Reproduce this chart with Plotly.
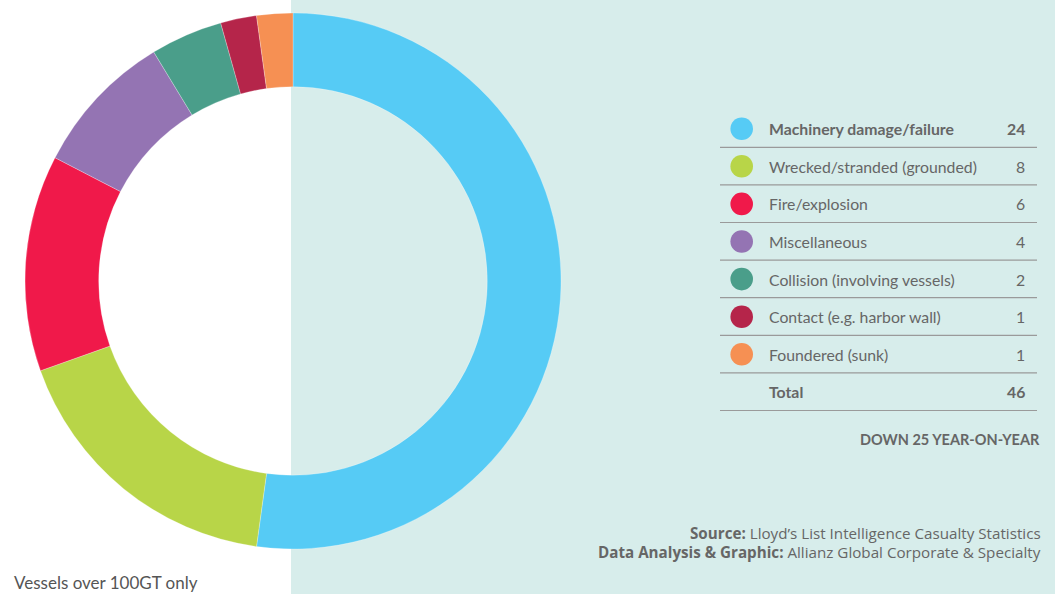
import plotly.graph_objects as go

categories = ["Machinery damage/failure", "Wrecked/stranded (grounded)", "Fire/explosion",
              "Miscellaneous", "Collision (involving vessels)", "Contact (e.g. harbor wall)",
              "Foundered (sunk)"]
values = [24, 8, 6, 4, 2, 1, 1]
colors = ["#56cbf5", "#b8d548", "#f0194a", "#9474b3", "#4a9e8a", "#b5254a", "#f69053"]
total_label = "Total"
total_value = sum(values)
note = "DOWN 25 YEAR-ON-YEAR"
footnote = "Vessels over 100GT only"
source_lines = ["<b>Source:</b> Lloyd’s List Intelligence Casualty Statistics",
                "<b>Data Analysis & Graphic:</b> Allianz Global Corporate & Specialty"]

W, H = 1055, 594
def px(x): return x / W
def py(y): return 1 - y / H

FONT = "Lato"
TXT = "#666666"

cx, cy, R = 293, 281, 268
fig = go.Figure(go.Pie(
    labels=categories, values=values, sort=False, direction="clockwise", rotation=0,
    hole=0.725, marker=dict(colors=colors, line=dict(color="rgba(255,255,255,0.5)", width=0.5)),
    textinfo="none", hoverinfo="label+value", showlegend=False,
    domain=dict(x=[px(cx - R), px(cx + R)], y=[py(cy + R), py(cy - R)]),
))

shapes = [dict(type="rect", xref="paper", yref="paper", x0=px(291), x1=1, y0=0, y1=1,
               fillcolor="#d7edeb", line_width=0, layer="below")]
annotations = []
row0, step = 128.7, 37.6
for i, (c, v, col) in enumerate(zip(categories + [total_label], values + [total_value], colors + [None])):
    y = row0 + i * step
    bold = (i == 0 or i == len(categories))
    if col is not None:
        r = 11.3
        shapes.append(dict(type="circle", xref="paper", yref="paper",
                           x0=px(741.7 - r), x1=px(741.7 + r), y0=py(y + r), y1=py(y - r),
                           fillcolor=col, line_width=0))
    shapes.append(dict(type="line", xref="paper", yref="paper", x0=px(720), x1=px(1037),
                       y0=py(y + 18.6), y1=py(y + 18.6), line=dict(color="#9a9a9a", width=1.2)))
    lab = f"<b>{c}</b>" if bold else c
    num = f"<b>{v}</b>" if bold else str(v)
    annotations.append(dict(text=lab, x=px(767), y=py(y), xref="paper", yref="paper",
                            xanchor="left", yanchor="middle", showarrow=False,
                            font=dict(family=FONT, size=15.8, color=TXT)))
    annotations.append(dict(text=num, x=px(1027), y=py(y), xref="paper", yref="paper",
                            xanchor="right", yanchor="middle", showarrow=False,
                            font=dict(family=FONT, size=15.8, color=TXT)))

annotations.append(dict(text=f"<b>{note}</b>", x=px(1042), y=py(439), xref="paper", yref="paper",
                        xanchor="right", yanchor="middle", showarrow=False,
                        font=dict(family=FONT, size=14.5, color=TXT)))
for j, s in enumerate(source_lines):
    annotations.append(dict(text=s, x=px(1043), y=py(533 + 18.5 * j), xref="paper", yref="paper",
                            xanchor="right", yanchor="middle", showarrow=False,
                            font=dict(family="Open Sans", size=15.2, color=TXT)))
annotations.append(dict(text=footnote, x=px(12), y=py(582), xref="paper", yref="paper",
                        xanchor="left", yanchor="middle", showarrow=False,
                        font=dict(family=FONT, size=17, color="#555555")))

fig.update_layout(width=W, height=H, margin=dict(l=0, r=0, t=0, b=0),
                  paper_bgcolor="white", plot_bgcolor="white",
                  shapes=shapes, annotations=annotations)
fig.write_html("out.html", config={"displayModeBar": False},
               post_script="document.body.style.margin='0';document.body.style.overflow='hidden';")
